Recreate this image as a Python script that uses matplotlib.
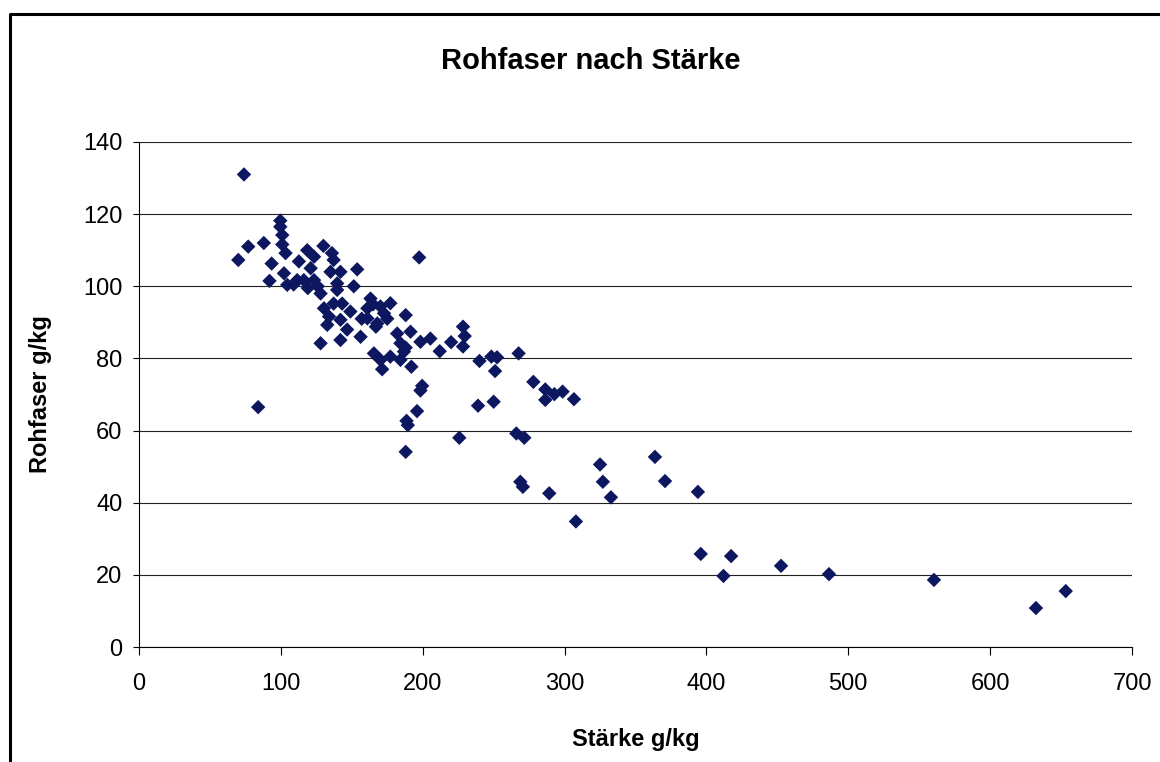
import matplotlib
matplotlib.use("Agg")
import matplotlib.pyplot as plt
from matplotlib.lines import Line2D

plt.rcParams['font.family'] = ['Liberation Sans', 'DejaVu Sans']

# Stärke g/kg (x) und Rohfaser g/kg (y)
staerke = [74, 70, 77, 88, 93.5, 92, 84, 99.6, 99.6, 101, 101, 103.3, 102.2, 104.5,
           112.7, 118.6, 123.4, 130, 136, 137.2, 197.5, 111.5, 116.2, 121, 123.4,
           128, 135, 142, 153.8, 139.7, 139.7, 151.4, 130.4, 137.2, 143.2, 149,
           163.2, 165, 161, 134, 142, 161, 170.2, 177.2, 172.7, 168, 188, 132.7,
           146.7, 128, 142, 156.2, 182, 191.4, 184.3, 165.6, 170.2, 177.2, 184.3,
           192, 175, 167, 198.4, 205.4, 212, 188, 186.8, 171.4, 220, 228.4, 229.6,
           228.4, 199.6, 198.4, 196, 188.6, 189.5, 188, 225.8, 240, 248.4, 252.4,
           251, 267.6, 239, 250, 278, 286.4, 286.4, 292.8, 298.6, 306.6, 266,
           271.6, 268.8, 270.6, 289.2, 325, 327, 332.7, 308, 363.7, 370.8, 394,
           396, 412, 417.4, 452.6, 486.4, 560.4, 632.3, 653.3, 126, 119, 109, 157]
rohfaser = [131, 107.3, 111, 112, 106.3, 101.5, 66.5, 118.2, 116.5, 114.2, 111.6, 109.2,
            103.6, 100.4, 106.9, 110, 108.2, 111.2, 109.2, 107.3, 108, 101.7, 101.7,
            105, 101.7, 98, 104, 104, 104.7, 100.8, 99, 100, 93.9, 95.2, 95.2, 93,
            96.6, 95, 93.9, 91.6, 90.7, 91.1, 94.4, 95.3, 92.5, 89.7, 92, 89.3, 88,
            84.2, 85.1, 86, 86.9, 87.4, 84.2, 81.4, 79.6, 80.5, 79.6, 77.7, 91,
            88.8, 84.6, 85.5, 82, 83, 81.9, 77, 84.5, 88.8, 86.2, 83.3, 72.4, 71.1,
            65.4, 62.7, 61.5, 54.1, 58, 79.3, 80.5, 80.3, 76.5, 81.4, 66.9, 68, 73.5,
            71.4, 68.5, 70.1, 70.8, 68.7, 59.2, 58, 45.8, 44.4, 42.6, 50.6, 45.8,
            41.5, 34.8, 52.7, 46, 43, 25.8, 19.7, 25.2, 22.5, 20.2, 18.6, 10.8, 15.5,
            100, 99.5, 100.5, 91]

x_ticks = [0, 100, 200, 300, 400, 500, 600, 700]
y_ticks = [0, 20, 40, 60, 80, 100, 120, 140]

fig = plt.figure(figsize=(11.6, 7.62), dpi=100)
ax = fig.add_axes([139 / 1160, 1 - 647 / 762, 993 / 1160, 505 / 762])

ax.scatter(staerke, rohfaser, marker='D', s=54, color='#0d1760',
           edgecolors='none', zorder=3)

ax.set_xlim(0, 700)
ax.set_ylim(0, 140)
ax.set_xticks(x_ticks)
ax.set_yticks(y_ticks)
ax.yaxis.grid(True, color='#222222', linewidth=0.8)
ax.set_axisbelow(True)

for side in ['top', 'right']:
    ax.spines[side].set_visible(False)
ax.spines['left'].set_linewidth(0.8)
ax.spines['bottom'].set_linewidth(0.8)

ax.tick_params(axis='x', direction='out', length=5.5, width=0.8, pad=13,
               labelsize=17)
ax.tick_params(axis='y', direction='out', length=4, width=0.8, pad=8,
               labelsize=17)

ax.set_xlabel('Stärke g/kg', fontsize=17, fontweight='bold')
ax.set_ylabel('Rohfaser g/kg', fontsize=17, fontweight='bold')
ax.xaxis.set_label_coords(0.5, -0.16)
ax.yaxis.set_label_coords(-0.0876, 0.5)

fig.text(591 / 1160, 1 - 61 / 762, 'Rohfaser nach Stärke', ha='center',
         va='center', fontsize=21, fontweight='bold')

# Rahmen des Diagrammbereichs (oben und links sichtbar)
fig.add_artist(Line2D([10 / 1160, 10 / 1160, 1.0], [0.0, 1 - 14 / 762, 1 - 14 / 762],
                      transform=fig.transFigure, color='black', linewidth=2.2))

fig.savefig('out.png', dpi=100)
